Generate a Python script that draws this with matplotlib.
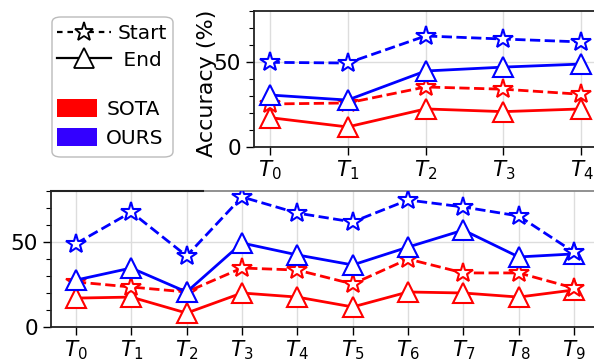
import matplotlib
matplotlib.use("Agg")
import matplotlib.pyplot as plt
from matplotlib.lines import Line2D
from matplotlib.patches import Patch, FancyBboxPatch
from matplotlib.ticker import MultipleLocator

# top panel: 5 tasks
top_tasks = [r"$T_{0}$", r"$T_{1}$", r"$T_{2}$", r"$T_{3}$", r"$T_{4}$"]
top_ours_start = [49.8, 49.4, 65.3, 63.5, 61.8]
top_ours_end = [30.6, 27.6, 44.7, 47.0, 48.8]
top_sota_start = [25.3, 25.9, 35.3, 34.0, 31.0]
top_sota_end = [17.3, 11.8, 22.4, 20.8, 22.4]

# bottom panel: 10 tasks
bot_tasks = [r"$T_{%d}$" % i for i in range(10)]
bot_ours_start = [49.0, 67.6, 41.8, 76.5, 67.0, 61.8, 74.7, 70.6, 65.3, 44.0]
bot_ours_end = [27.6, 34.7, 20.6, 49.4, 42.4, 36.5, 47.0, 57.0, 41.2, 43.0]
bot_sota_start = [26.5, 23.5, 20.6, 34.7, 33.5, 25.3, 40.0, 31.8, 31.8, 22.9]
bot_sota_end = [17.0, 17.6, 8.2, 20.0, 17.6, 11.8, 20.6, 20.0, 17.6, 21.8]

RED = "#ff0000"
BLUE = "#0000ff"
FS = 15.5


def draw_panel(ax, labels, ours_s, ours_e, sota_s, sota_e, xpad):
    x = list(range(len(labels)))
    kw_star = dict(marker="*", markersize=15, markerfacecolor="white",
                   markeredgewidth=1.5, lw=2, ls="--")
    kw_tri = dict(marker="^", markersize=15, markerfacecolor="white",
                  markeredgewidth=1.5, lw=2, ls="-")
    ax.plot(x, sota_e, color=RED, zorder=3, **kw_tri)
    ax.plot(x, sota_s, color=RED, zorder=3, **kw_star)
    ax.plot(x, ours_e, color=BLUE, zorder=4, **kw_tri)
    ax.plot(x, ours_s, color=BLUE, zorder=4, **kw_star)
    ax.set_xticks(x)
    ax.set_xticklabels(labels)
    ax.set_xlim(-xpad, len(labels) - 1 + xpad)
    ax.set_ylim(0, 80)
    ax.set_yticks([0, 50])
    ax.yaxis.set_minor_locator(MultipleLocator(10))
    ax.grid(True, which="major", color="#dddddd", lw=1, zorder=0)
    ax.set_axisbelow(True)
    ax.tick_params(axis="both", which="major", labelsize=FS, length=6, width=1)
    ax.tick_params(axis="x", pad=2.5)
    ax.tick_params(axis="y", which="minor", length=3.5, width=0.8)
    ax.spines["right"].set_visible(False)
    for s in ("left", "bottom", "top"):
        ax.spines[s].set_linewidth(1.3)
        ax.spines[s].set_color("#222222")


fig = plt.figure(figsize=(5.94, 3.6), dpi=100)

ax1 = fig.add_axes([254 / 594, 1 - 147 / 360, 343 / 594, 136 / 360])
draw_panel(ax1, top_tasks, top_ours_start, top_ours_end, top_sota_start, top_sota_end, 0.2)
ax1.set_ylabel("Accuracy (%)", fontsize=16)
ax1.yaxis.set_label_coords(-0.108, 0.465)

ax2 = fig.add_axes([51 / 594, 1 - 327 / 360, 548 / 594, 136 / 360])
draw_panel(ax2, bot_tasks, bot_ours_start, bot_ours_end, bot_sota_start, bot_sota_end, 0.45)
ax2.spines["top"].set_color("#888888")
ax2.plot([0, 0.278], [1, 1], transform=ax2.transAxes, color="#222222", lw=1.5,
         clip_on=False, zorder=5)

# legend frame + two legends inside it
fig.patches.append(FancyBboxPatch((52 / 594, 1 - 157 / 360), 121 / 594, 140 / 360,
                                  boxstyle="round,pad=0,rounding_size=0.015",
                                  transform=fig.transFigure, facecolor="white",
                                  edgecolor="#bbbbbb", lw=1))

h1 = [Line2D([0], [0], color="k", ls=(0, (2.5, 2.2)), lw=1.6, marker="*", markersize=14,
             markerfacecolor="white", markeredgewidth=1.3),
      Line2D([0], [0], color="k", ls="-", lw=1.6, marker="^", markersize=14,
             markerfacecolor="white", markeredgewidth=1.3)]
leg1 = fig.legend(h1, ["Start", " End"], loc="center left",
                  bbox_to_anchor=(57 / 594, 1 - 47 / 360), frameon=False,
                  fontsize=14.5, handlelength=2.7, handletextpad=0.3,
                  borderpad=0, borderaxespad=0, labelspacing=0.35)

h2 = [Patch(facecolor=RED, edgecolor="none"),
      Patch(facecolor="#3300ff", edgecolor="none")]
leg2 = fig.legend(h2, ["SOTA", "OURS"], loc="center left",
                  bbox_to_anchor=(57 / 594, 1 - 123.5 / 360), frameon=False,
                  fontsize=14.5, handlelength=2.0, handleheight=1.0,
                  handletextpad=0.45, borderpad=0, borderaxespad=0,
                  labelspacing=0.45)

fig.savefig("out.png", dpi=100)
